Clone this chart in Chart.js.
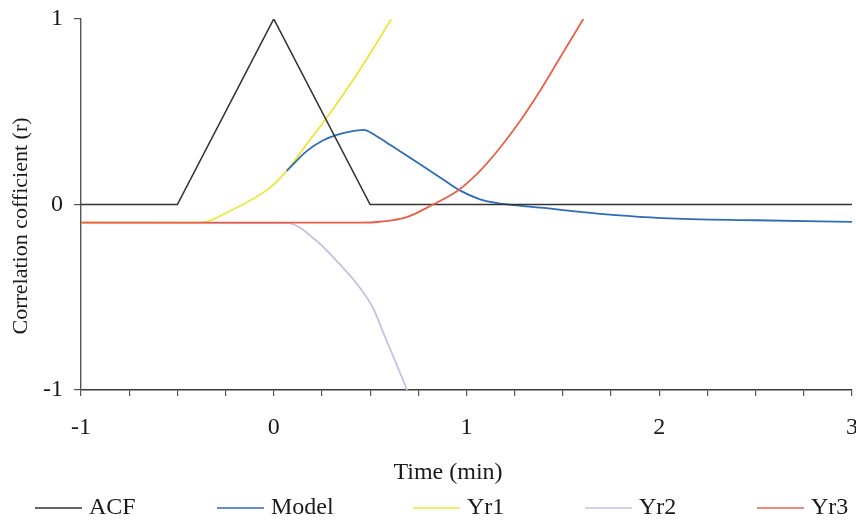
<!DOCTYPE html>
<html>
<head>
<meta charset="utf-8">
<script src="https://cdn.jsdelivr.net/npm/chart.js@4.4.1/dist/chart.umd.min.js"></script>
<style>
  html, body { margin: 0; padding: 0; background: #ffffff; }
  canvas { display: block; }
</style>
</head>
<body>
<canvas id="c" width="856" height="521"></canvas>
<script>
// ---- Data ----
const seriesNames = ["ACF", "Model", "Yr1", "Yr2", "Yr3"];

const acfX = [-1, -0.5, 0, 0.5, 3];
const acfY = [0, 0, 1, 0, 0];

const modelX = [0.067, 0.171, 0.257, 0.327, 0.396, 0.465, 0.534, 0.603, 0.655, 0.759, 0.863, 0.958, 1.07, 1.16, 1.243, 1.416, 1.589, 1.693, 2.02, 2.5, 3.0];
const modelY = [0.181, 0.288, 0.346, 0.375, 0.393, 0.402, 0.368, 0.322, 0.287, 0.217, 0.146, 0.08, 0.028, 0.008, -0.003, -0.02, -0.04, -0.05, -0.073, -0.085, -0.094];

const yr1X = [-1, -0.383, -0.227, -0.019, 0.067, 0.171, 0.275, 0.361, 0.465, 0.61];
const yr1Y = [-0.098, -0.098, -0.035, 0.091, 0.181, 0.325, 0.468, 0.594, 0.756, 1.0];

const yr2X = [-1, 0.07, 0.223, 0.327, 0.447, 0.516, 0.568, 0.638, 0.692];
const yr2Y = [-0.098, -0.1, -0.197, -0.305, -0.449, -0.56, -0.69, -0.865, -1.0];

const yr3X = [-1, 0.45, 0.551, 0.69, 0.828, 0.958, 1.07, 1.174, 1.278, 1.381, 1.485, 1.606];
const yr3Y = [-0.098, -0.098, -0.093, -0.068, 0.001, 0.077, 0.181, 0.306, 0.45, 0.612, 0.791, 1.0];

const xTickValues = [-1, 0, 1, 2, 3];
const yTickValues = [-1, 0, 1];
const xTitle = "Time (min)";
const yTitle = "Correlation cofficient (r)";

// ---- Styles ----
const colors = ["#333333", "#2f6cb5", "#f0e43a", "#c9bfe2", "#e8604a"];
const drawOrder = [1, 2, 3, 4, 0];
const FONT = "'Liberation Serif', 'Times New Roman', serif";

function pts(xs, ys) { return xs.map((x, i) => ({ x: x, y: ys[i] })); }

const seriesData = [pts(acfX, acfY), pts(modelX, modelY), pts(yr1X, yr1Y), pts(yr2X, yr2Y), pts(yr3X, yr3Y)];

const datasets = seriesNames.map((name, i) => ({
  label: name,
  data: seriesData[i],
  borderColor: colors[i],
  backgroundColor: colors[i],
  borderWidth: i === 0 ? 1.6 : 1.8,
  pointRadius: 0,
  fill: false,
  order: drawOrder[i],
  tension: i === 0 ? 0 : 0.4,
  cubicInterpolationMode: i === 0 ? 'default' : 'monotone'
}));

// custom titles + legend
const decorPlugin = {
  id: 'decor',
  afterDraw(chart) {
    const ctx = chart.ctx;
    ctx.save();
    ctx.fillStyle = '#1a1a1a';
    // x title
    ctx.font = "24px " + FONT;
    ctx.textAlign = 'center';
    ctx.textBaseline = 'middle';
    ctx.fillText(xTitle, 448, 473);
    // y title
    ctx.save();
    ctx.translate(21, 226);
    ctx.rotate(-Math.PI / 2);
    ctx.font = "22px " + FONT;
    ctx.fillText(yTitle, 0, 0);
    ctx.restore();
    // legend
    const starts = [35, 217, 413, 585, 757];
    const ly = 508;
    ctx.font = "24px " + FONT;
    ctx.textAlign = 'left';
    chart.data.datasets.forEach((ds, i) => {
      ctx.strokeStyle = ds.borderColor;
      ctx.lineWidth = 1.6;
      ctx.beginPath();
      ctx.moveTo(starts[i], ly);
      ctx.lineTo(starts[i] + 47, ly);
      ctx.stroke();
      ctx.fillStyle = '#1a1a1a';
      ctx.fillText(ds.label, starts[i] + 54, ly);
    });
    ctx.restore();
  }
};

new Chart(document.getElementById('c'), {
  type: 'line',
  data: { datasets: datasets },
  plugins: [decorPlugin],
  options: {
    responsive: false,
    animation: false,
    devicePixelRatio: 1,
    layout: { padding: { left: 0, right: 4, top: 19, bottom: 31 } },
    plugins: { legend: { display: false }, tooltip: { enabled: false } },
    scales: {
      x: {
        type: 'linear',
        min: -1, max: 3,
        afterFit(scale) { scale.height = 100; scale.paddingLeft = 0; scale.paddingRight = 0; },
        ticks: {
          stepSize: 0.25,
          autoSkip: false,
          maxRotation: 0,
          padding: 17,
          color: '#1a1a1a',
          font: { family: FONT, size: 24 },
          callback: (v) => xTickValues.includes(v) ? String(v) : ''
        },
        grid: { drawOnChartArea: false, drawTicks: true, tickLength: 6, color: '#555555', lineWidth: 1.2 },
        border: { display: true, color: '#3a3a3a', width: 1.6 }
      },
      y: {
        type: 'linear',
        min: -1, max: 1,
        afterFit(scale) { scale.width = 81; scale.paddingTop = 0; scale.paddingBottom = 0; },
        ticks: {
          stepSize: 1,
          padding: 11,
          color: '#1a1a1a',
          font: { family: FONT, size: 24 },
          callback: (v) => yTickValues.includes(v) ? String(v) : ''
        },
        grid: { drawOnChartArea: false, drawTicks: true, tickLength: 7, color: '#555555', lineWidth: 1.2 },
        border: { display: true, color: '#555555', width: 1.4 }
      }
    }
  }
});
</script>
</body>
</html>
